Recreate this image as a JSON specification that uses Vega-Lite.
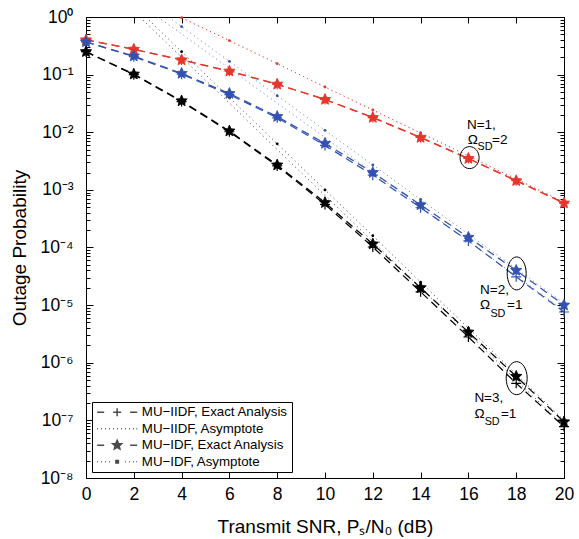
{
  "$schema": "https://vega.github.io/schema/vega-lite/v6.json",
  "width": 478,
  "height": 461,
  "autosize": {"type": "none"},
  "padding": {"left": 86, "top": 17, "right": 15, "bottom": 61},
  "background": "white",
  "config": {
    "font": "Liberation Sans",
    "view": {"stroke": "black", "strokeWidth": 1},
    "axis": {"grid": false, "domainColor": "black", "tickColor": "black", "labelColor": "black", "titleColor": "black", "labelFontSize": 17.5, "titleFontSize": 19, "titleFontWeight": "normal", "labelFont": "Liberation Sans", "titleFont": "Liberation Sans", "labelOverlap": false, "labelFlush": false, "labelBound": false}
  },
  "datasets": {
    "curves": [
      {"snr": 0, "p": 0.40, "group": "N=1", "kind": "IIDF exact"}, {"snr": 2, "p": 0.275, "group": "N=1", "kind": "IIDF exact"}, {"snr": 4, "p": 0.18, "group": "N=1", "kind": "IIDF exact"}, {"snr": 6, "p": 0.115, "group": "N=1", "kind": "IIDF exact"}, {"snr": 8, "p": 0.068, "group": "N=1", "kind": "IIDF exact"}, {"snr": 10, "p": 0.037, "group": "N=1", "kind": "IIDF exact"}, {"snr": 12, "p": 0.018, "group": "N=1", "kind": "IIDF exact"}, {"snr": 14, "p": 0.0081, "group": "N=1", "kind": "IIDF exact"}, {"snr": 16, "p": 0.0035, "group": "N=1", "kind": "IIDF exact"}, {"snr": 18, "p": 0.00144, "group": "N=1", "kind": "IIDF exact"}, {"snr": 20, "p": 0.00059, "group": "N=1", "kind": "IIDF exact"},
      {"snr": 0, "p": 0.40, "group": "N=1", "kind": "IDF exact"}, {"snr": 2, "p": 0.275, "group": "N=1", "kind": "IDF exact"}, {"snr": 4, "p": 0.18, "group": "N=1", "kind": "IDF exact"}, {"snr": 6, "p": 0.115, "group": "N=1", "kind": "IDF exact"}, {"snr": 8, "p": 0.068, "group": "N=1", "kind": "IDF exact"}, {"snr": 10, "p": 0.037, "group": "N=1", "kind": "IDF exact"}, {"snr": 12, "p": 0.018, "group": "N=1", "kind": "IDF exact"}, {"snr": 14, "p": 0.0081, "group": "N=1", "kind": "IDF exact"}, {"snr": 16, "p": 0.0035, "group": "N=1", "kind": "IDF exact"}, {"snr": 18, "p": 0.00144, "group": "N=1", "kind": "IDF exact"}, {"snr": 20, "p": 0.00059, "group": "N=1", "kind": "IDF exact"},
      {"snr": 4, "p": 0.97, "group": "N=1", "kind": "IIDF asym"}, {"snr": 6, "p": 0.39, "group": "N=1", "kind": "IIDF asym"}, {"snr": 8, "p": 0.155, "group": "N=1", "kind": "IIDF asym"}, {"snr": 10, "p": 0.061, "group": "N=1", "kind": "IIDF asym"}, {"snr": 12, "p": 0.0243, "group": "N=1", "kind": "IIDF asym"}, {"snr": 14, "p": 0.0097, "group": "N=1", "kind": "IIDF asym"}, {"snr": 16, "p": 0.0039, "group": "N=1", "kind": "IIDF asym"}, {"snr": 18, "p": 0.00154, "group": "N=1", "kind": "IIDF asym"}, {"snr": 20, "p": 0.00061, "group": "N=1", "kind": "IIDF asym"},
      {"snr": 4, "p": 0.97, "group": "N=1", "kind": "IDF asym"}, {"snr": 6, "p": 0.39, "group": "N=1", "kind": "IDF asym"}, {"snr": 8, "p": 0.155, "group": "N=1", "kind": "IDF asym"}, {"snr": 10, "p": 0.061, "group": "N=1", "kind": "IDF asym"}, {"snr": 12, "p": 0.0243, "group": "N=1", "kind": "IDF asym"}, {"snr": 14, "p": 0.0097, "group": "N=1", "kind": "IDF asym"}, {"snr": 16, "p": 0.0039, "group": "N=1", "kind": "IDF asym"}, {"snr": 18, "p": 0.00154, "group": "N=1", "kind": "IDF asym"}, {"snr": 20, "p": 0.00061, "group": "N=1", "kind": "IDF asym"},
      {"snr": 0, "p": 0.37, "group": "N=2", "kind": "IDF exact"}, {"snr": 2, "p": 0.21, "group": "N=2", "kind": "IDF exact"}, {"snr": 4, "p": 0.105, "group": "N=2", "kind": "IDF exact"}, {"snr": 6, "p": 0.047, "group": "N=2", "kind": "IDF exact"}, {"snr": 8, "p": 0.0187, "group": "N=2", "kind": "IDF exact"}, {"snr": 10, "p": 0.0064, "group": "N=2", "kind": "IDF exact"}, {"snr": 12, "p": 0.0020, "group": "N=2", "kind": "IDF exact"}, {"snr": 14, "p": 0.00055, "group": "N=2", "kind": "IDF exact"}, {"snr": 16, "p": 0.00015, "group": "N=2", "kind": "IDF exact"}, {"snr": 18, "p": 4.0e-5, "group": "N=2", "kind": "IDF exact"}, {"snr": 20, "p": 1.0e-5, "group": "N=2", "kind": "IDF exact"},
      {"snr": 0, "p": 0.37, "group": "N=2", "kind": "IIDF exact"}, {"snr": 2, "p": 0.205, "group": "N=2", "kind": "IIDF exact"}, {"snr": 4, "p": 0.102, "group": "N=2", "kind": "IIDF exact"}, {"snr": 6, "p": 0.045, "group": "N=2", "kind": "IIDF exact"}, {"snr": 8, "p": 0.0178, "group": "N=2", "kind": "IIDF exact"}, {"snr": 10, "p": 0.0059, "group": "N=2", "kind": "IIDF exact"}, {"snr": 12, "p": 0.0018, "group": "N=2", "kind": "IIDF exact"}, {"snr": 14, "p": 0.00049, "group": "N=2", "kind": "IIDF exact"}, {"snr": 16, "p": 0.00013, "group": "N=2", "kind": "IIDF exact"}, {"snr": 18, "p": 3.1e-5, "group": "N=2", "kind": "IIDF exact"}, {"snr": 20, "p": 7.6e-6, "group": "N=2", "kind": "IIDF exact"},
      {"snr": 3.45, "p": 1, "group": "N=2", "kind": "IDF asym"}, {"snr": 4, "p": 0.68, "group": "N=2", "kind": "IDF asym"}, {"snr": 6, "p": 0.17, "group": "N=2", "kind": "IDF asym"}, {"snr": 8, "p": 0.043, "group": "N=2", "kind": "IDF asym"}, {"snr": 10, "p": 0.0108, "group": "N=2", "kind": "IDF asym"}, {"snr": 12, "p": 0.0027, "group": "N=2", "kind": "IDF asym"}, {"snr": 14, "p": 0.00068, "group": "N=2", "kind": "IDF asym"}, {"snr": 16, "p": 0.00017, "group": "N=2", "kind": "IDF asym"}, {"snr": 18, "p": 4.3e-5, "group": "N=2", "kind": "IDF asym"}, {"snr": 20, "p": 1.08e-5, "group": "N=2", "kind": "IDF asym"},
      {"snr": 3.0, "p": 1, "group": "N=2", "kind": "IIDF asym"}, {"snr": 4, "p": 0.51, "group": "N=2", "kind": "IIDF asym"}, {"snr": 6, "p": 0.128, "group": "N=2", "kind": "IIDF asym"}, {"snr": 8, "p": 0.032, "group": "N=2", "kind": "IIDF asym"}, {"snr": 10, "p": 0.0081, "group": "N=2", "kind": "IIDF asym"}, {"snr": 12, "p": 0.002, "group": "N=2", "kind": "IIDF asym"}, {"snr": 14, "p": 0.00051, "group": "N=2", "kind": "IIDF asym"}, {"snr": 16, "p": 0.000128, "group": "N=2", "kind": "IIDF asym"}, {"snr": 18, "p": 3.2e-5, "group": "N=2", "kind": "IIDF asym"}, {"snr": 20, "p": 8.1e-6, "group": "N=2", "kind": "IIDF asym"},
      {"snr": 0, "p": 0.25, "group": "N=3", "kind": "IDF exact"}, {"snr": 2, "p": 0.102, "group": "N=3", "kind": "IDF exact"}, {"snr": 4, "p": 0.035, "group": "N=3", "kind": "IDF exact"}, {"snr": 6, "p": 0.0105, "group": "N=3", "kind": "IDF exact"}, {"snr": 8, "p": 0.0027, "group": "N=3", "kind": "IDF exact"}, {"snr": 10, "p": 0.0006, "group": "N=3", "kind": "IDF exact"}, {"snr": 12, "p": 0.000115, "group": "N=3", "kind": "IDF exact"}, {"snr": 14, "p": 2.0e-5, "group": "N=3", "kind": "IDF exact"}, {"snr": 16, "p": 3.4e-6, "group": "N=3", "kind": "IDF exact"}, {"snr": 18, "p": 5.8e-7, "group": "N=3", "kind": "IDF exact"}, {"snr": 20, "p": 9.4e-8, "group": "N=3", "kind": "IDF exact"},
      {"snr": 0, "p": 0.25, "group": "N=3", "kind": "IIDF exact"}, {"snr": 2, "p": 0.10, "group": "N=3", "kind": "IIDF exact"}, {"snr": 4, "p": 0.034, "group": "N=3", "kind": "IIDF exact"}, {"snr": 6, "p": 0.0102, "group": "N=3", "kind": "IIDF exact"}, {"snr": 8, "p": 0.0026, "group": "N=3", "kind": "IIDF exact"}, {"snr": 10, "p": 0.00056, "group": "N=3", "kind": "IIDF exact"}, {"snr": 12, "p": 0.000102, "group": "N=3", "kind": "IIDF exact"}, {"snr": 14, "p": 1.7e-5, "group": "N=3", "kind": "IIDF exact"}, {"snr": 16, "p": 2.8e-6, "group": "N=3", "kind": "IIDF exact"}, {"snr": 18, "p": 4.4e-7, "group": "N=3", "kind": "IIDF exact"}, {"snr": 20, "p": 7.8e-8, "group": "N=3", "kind": "IIDF exact"},
      {"snr": 2.5, "p": 1, "group": "N=3", "kind": "IDF asym"}, {"snr": 4, "p": 0.25, "group": "N=3", "kind": "IDF asym"}, {"snr": 6, "p": 0.04, "group": "N=3", "kind": "IDF asym"}, {"snr": 8, "p": 0.0063, "group": "N=3", "kind": "IDF asym"}, {"snr": 10, "p": 0.001, "group": "N=3", "kind": "IDF asym"}, {"snr": 12, "p": 0.00016, "group": "N=3", "kind": "IDF asym"}, {"snr": 14, "p": 2.5e-5, "group": "N=3", "kind": "IDF asym"}, {"snr": 16, "p": 4.0e-6, "group": "N=3", "kind": "IDF asym"}, {"snr": 18, "p": 6.3e-7, "group": "N=3", "kind": "IDF asym"}, {"snr": 20, "p": 1.0e-7, "group": "N=3", "kind": "IDF asym"},
      {"snr": 2.25, "p": 1, "group": "N=3", "kind": "IIDF asym"}, {"snr": 4, "p": 0.2, "group": "N=3", "kind": "IIDF asym"}, {"snr": 6, "p": 0.032, "group": "N=3", "kind": "IIDF asym"}, {"snr": 8, "p": 0.005, "group": "N=3", "kind": "IIDF asym"}, {"snr": 10, "p": 0.0008, "group": "N=3", "kind": "IIDF asym"}, {"snr": 12, "p": 0.000127, "group": "N=3", "kind": "IIDF asym"}, {"snr": 14, "p": 2.0e-5, "group": "N=3", "kind": "IIDF asym"}, {"snr": 16, "p": 3.2e-6, "group": "N=3", "kind": "IIDF asym"}, {"snr": 18, "p": 5.0e-7, "group": "N=3", "kind": "IIDF asym"}, {"snr": 20, "p": 8.0e-8, "group": "N=3", "kind": "IIDF asym"}
    ],
    "annot": [
      {"snr": 15.94, "p": 0.0115, "text": "N=1,", "sub": false},
      {"snr": 15.97, "p": 0.0063, "text": "Ω", "sub": false},
      {"snr": 16.38, "p": 0.0049, "text": "SD", "sub": true},
      {"snr": 16.99, "p": 0.0063, "text": "=2", "sub": false},
      {"snr": 16.49, "p": 1.57e-5, "text": "N=2,", "sub": false},
      {"snr": 16.49, "p": 8.4e-6, "text": "Ω", "sub": false},
      {"snr": 16.92, "p": 6.2e-6, "text": "SD", "sub": true},
      {"snr": 17.62, "p": 8.4e-6, "text": "=1", "sub": false},
      {"snr": 16.25, "p": 2.07e-7, "text": "N=3,", "sub": false},
      {"snr": 16.25, "p": 1.1e-7, "text": "Ω", "sub": false},
      {"snr": 16.68, "p": 8.2e-8, "text": "SD", "sub": true},
      {"snr": 17.36, "p": 1.1e-7, "text": "=1", "sub": false}
    ],
    "rings": [
      {"snr": 16.05, "p": 0.00363, "group": "N=1"},
      {"snr": 18.02, "p": 3.55e-5, "group": "N=2"},
      {"snr": 18.02, "p": 5.4e-7, "group": "N=3"}
    ]
  },
  "resolve": {"scale": {"shape": "independent"}, "axis": {"x": "independent", "y": "independent"}},
  "layer": [
    {
      "data": {"name": "curves"},
      "transform": [{"filter": "indexof(datum.kind, 'asym') >= 0"}],
      "mark": {"type": "line", "strokeWidth": 1, "strokeDash": [1, 3.5], "opacity": 0.75, "clip": true},
      "encoding": {
        "x": {"field": "snr", "type": "quantitative", "scale": {"domain": [0, 20], "nice": false, "zero": false},
          "axis": {"orient": "bottom", "values": [0, 2, 4, 6, 8, 10, 12, 14, 16, 18, 20], "tickSize": -6, "labelPadding": 13, "title": "Transmit SNR, Pₛ/N₀ (dB)", "titlePadding": 15}},
        "y": {"field": "p", "type": "quantitative", "scale": {"type": "log", "domain": [1e-8, 1], "nice": false},
          "axis": {"orient": "left",
            "values": [1e-8,2e-8,3e-8,4e-8,5e-8,6e-8,7e-8,8e-8,9e-8,1e-7,2e-7,3e-7,4e-7,5e-7,6e-7,7e-7,8e-7,9e-7,1e-6,2e-6,3e-6,4e-6,5e-6,6e-6,7e-6,8e-6,9e-6,1e-5,2e-5,3e-5,4e-5,5e-5,6e-5,7e-5,8e-5,9e-5,1e-4,2e-4,3e-4,4e-4,5e-4,6e-4,7e-4,8e-4,9e-4,1e-3,2e-3,3e-3,4e-3,5e-3,6e-3,7e-3,8e-3,9e-3,1e-2,2e-2,3e-2,4e-2,5e-2,6e-2,7e-2,8e-2,9e-2,0.1,0.2,0.3,0.4,0.5,0.6,0.7,0.8,0.9,1],
            "labelExpr": "abs(log(datum.value)/LN10 - round(log(datum.value)/LN10)) < 0.001 ? (round(log(datum.value)/LN10) == 0 ? '10⁰' : '10⁻' + ['','¹','²','³','⁴','⁵','⁶','⁷','⁸'][-round(log(datum.value)/LN10)]) : ''",
            "tickSize": {"condition": {"test": "abs(log(datum.value)/LN10 - round(log(datum.value)/LN10)) < 0.001", "value": -7}, "value": -4},
            "labelPadding": 20, "title": "Outage Probability", "titlePadding": 11}},
        "color": {"field": "group", "type": "nominal", "scale": {"domain": ["N=1", "N=2", "N=3"], "range": ["#e8352b", "#3352b0", "#000000"]}, "legend": null},
        "detail": {"field": "kind"}
      }
    },
    {
      "data": {"name": "curves"},
      "transform": [{"filter": "indexof(datum.kind, 'exact') >= 0"}],
      "mark": {"type": "line", "strokeWidth": 1.25, "strokeDash": [8, 5], "clip": true},
      "encoding": {
        "x": {"field": "snr", "type": "quantitative",
          "axis": {"orient": "top", "values": [0, 2, 4, 6, 8, 10, 12, 14, 16, 18, 20], "tickSize": -6, "labels": false, "title": null}},
        "y": {"field": "p", "type": "quantitative",
          "axis": {"orient": "right",
            "values": [1e-8,2e-8,3e-8,4e-8,5e-8,6e-8,7e-8,8e-8,9e-8,1e-7,2e-7,3e-7,4e-7,5e-7,6e-7,7e-7,8e-7,9e-7,1e-6,2e-6,3e-6,4e-6,5e-6,6e-6,7e-6,8e-6,9e-6,1e-5,2e-5,3e-5,4e-5,5e-5,6e-5,7e-5,8e-5,9e-5,1e-4,2e-4,3e-4,4e-4,5e-4,6e-4,7e-4,8e-4,9e-4,1e-3,2e-3,3e-3,4e-3,5e-3,6e-3,7e-3,8e-3,9e-3,1e-2,2e-2,3e-2,4e-2,5e-2,6e-2,7e-2,8e-2,9e-2,0.1,0.2,0.3,0.4,0.5,0.6,0.7,0.8,0.9,1],
            "tickSize": {"condition": {"test": "abs(log(datum.value)/LN10 - round(log(datum.value)/LN10)) < 0.001", "value": -7}, "value": -4},
            "labels": false, "title": null}},
        "color": {"field": "group", "type": "nominal", "legend": null},
        "detail": {"field": "kind"}
      }
    },
    {
      "data": {"name": "curves"},
      "transform": [{"filter": "datum.kind == 'IDF asym' && datum.snr % 2 == 0"}],
      "mark": {"type": "point", "filled": true, "size": 8, "opacity": 1},
      "encoding": {
        "x": {"field": "snr", "type": "quantitative", "axis": null},
        "y": {"field": "p", "type": "quantitative", "axis": null},
        "color": {"field": "group", "type": "nominal", "legend": null}
      }
    },
    {
      "data": {"name": "curves"},
      "transform": [{"filter": "datum.kind == 'IIDF exact'"}],
      "mark": {"type": "point", "shape": "M-1,0L1,0M0,-1L0,1", "filled": false, "size": 100, "strokeWidth": 1.2, "opacity": 1},
      "encoding": {
        "x": {"field": "snr", "type": "quantitative", "axis": null},
        "y": {"field": "p", "type": "quantitative", "axis": null},
        "color": {"field": "group", "type": "nominal", "legend": null}
      }
    },
    {
      "data": {"name": "curves"},
      "transform": [{"filter": "datum.kind == 'IDF exact'"}],
      "mark": {"type": "point", "shape": "M0,-1L0.27,-0.37L0.951,-0.309L0.44,0.143L0.588,0.809L0,0.46L-0.588,0.809L-0.44,0.143L-0.951,-0.309L-0.27,-0.37Z", "filled": true, "size": 140, "strokeWidth": 0.9, "opacity": 1},
      "encoding": {
        "x": {"field": "snr", "type": "quantitative", "axis": null},
        "y": {"field": "p", "type": "quantitative", "axis": null},
        "color": {"field": "group", "type": "nominal", "legend": null},
        "stroke": {"field": "group", "type": "nominal", "scale": {"domain": ["N=1", "N=2", "N=3"], "range": ["#e8352b", "#3352b0", "#000000"]}, "legend": null}
      }
    },
    {
      "data": {"name": "rings"},
      "mark": {"type": "point", "filled": false, "color": "black", "size": 400, "strokeWidth": 1, "opacity": 1},
      "encoding": {
        "x": {"field": "snr", "type": "quantitative", "axis": null},
        "y": {"field": "p", "type": "quantitative", "axis": null},
        "shape": {"field": "group", "type": "nominal", "legend": null, "scale": {"domain": ["N=1", "N=2", "N=3"], "range": [
          "M0.95,0C0.95,0.608 0.525,1.1 0,1.1C-0.525,1.1 -0.95,0.608 -0.95,0C-0.95,-0.608 -0.525,-1.1 0,-1.1C0.525,-1.1 0.95,-0.608 0.95,0Z",
          "M0.95,0C0.95,0.911 0.525,1.65 0,1.65C-0.525,1.65 -0.95,0.911 -0.95,0C-0.95,-0.911 -0.525,-1.65 0,-1.65C0.525,-1.65 0.95,-0.911 0.95,0Z",
          "M1.05,0C1.05,0.911 0.58,1.65 0,1.65C-0.58,1.65 -1.05,0.911 -1.05,0C-1.05,-0.911 -0.58,-1.65 0,-1.65C0.58,-1.65 1.05,-0.911 1.05,0Z"]}}
      }
    },
    {
      "data": {"name": "annot"},
      "transform": [{"filter": "!datum.sub"}],
      "mark": {"type": "text", "align": "left", "baseline": "alphabetic", "fontSize": 13.5, "font": "Liberation Sans", "color": "black"},
      "encoding": {
        "x": {"field": "snr", "type": "quantitative", "axis": null},
        "y": {"field": "p", "type": "quantitative", "axis": null},
        "text": {"field": "text"}
      }
    },
    {
      "data": {"name": "annot"},
      "transform": [{"filter": "datum.sub"}],
      "mark": {"type": "text", "align": "left", "baseline": "alphabetic", "fontSize": 10.8, "font": "Liberation Sans", "color": "black"},
      "encoding": {
        "x": {"field": "snr", "type": "quantitative", "axis": null},
        "y": {"field": "p", "type": "quantitative", "axis": null},
        "text": {"field": "text"}
      }
    },
    {
      "data": {"values": [
        {"entry": "MU−IIDF, Exact Analysis"},
        {"entry": "MU−IIDF, Asymptote"},
        {"entry": "MU−IDF, Exact Analysis"},
        {"entry": "MU−IDF, Asymptote"}
      ]},
      "transform": [{"filter": "datum.entry == 'none'"}],
      "mark": {"type": "point", "filled": true, "color": "black", "stroke": "black", "strokeWidth": 1},
      "encoding": {
        "shape": {"field": "entry", "type": "nominal",
          "scale": {"domain": ["MU−IIDF, Exact Analysis", "MU−IIDF, Asymptote", "MU−IDF, Exact Analysis", "MU−IDF, Asymptote"],
            "range": [
              "M-1,0L0.4,0M5.6,0L7,0M2.2,0L3.8,0M3,-0.8L3,0.8",
              "M-1,0L-0.85,0M-0.2,0L-0.05,0M0.6,0L0.75,0M1.4,0L1.55,0M2.2,0L2.35,0M3,0L3.15,0M3.8,0L3.95,0M4.6,0L4.75,0M5.4,0L5.55,0M6.2,0L6.35,0M6.85,0L7,0",
              "M-1,0L0.4,0M5.6,0L7,0M3,-0.95L3.256,-0.352L3.903,-0.294L3.418,0.136L3.559,0.769L3,0.437L2.441,0.769L2.582,0.136L2.097,-0.294L2.744,-0.352Z",
              "M-1,0L-0.85,0M-0.2,0L-0.05,0M0.6,0L0.75,0M1.4,0L1.55,0M4.6,0L4.75,0M5.4,0L5.55,0M6.2,0L6.35,0M6.85,0L7,0M2.75,-0.25L3.25,-0.25L3.25,0.25L2.75,0.25Z"]},
          "legend": {"title": null, "orient": "bottom-left", "offset": 6, "symbolSize": 100, "labelOffset": 33, "labelFontSize": 13.3, "labelFont": "Liberation Sans", "labelColor": "black", "labelLimit": 0, "rowPadding": 1.5, "padding": 3.5, "strokeColor": "black", "fillColor": "white",
            "encode": {"symbols": {"update": {"stroke": {"value": "black"}, "fill": {"value": "black"}, "strokeWidth": {"value": 1}, "opacity": {"value": 1}}}}}
        }
      }
    }
  ]
}
